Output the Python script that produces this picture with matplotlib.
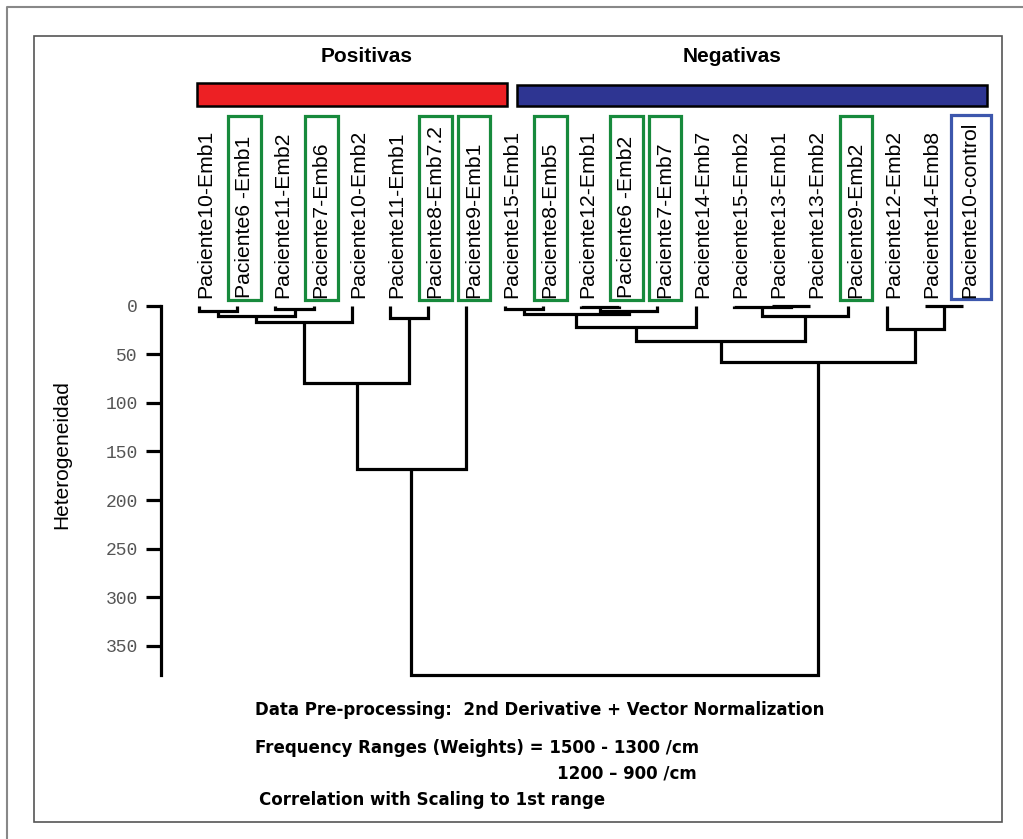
import matplotlib
matplotlib.use("Agg")
import matplotlib.pyplot as plt
from matplotlib.patches import Rectangle
from matplotlib.lines import Line2D
from matplotlib.transforms import blended_transform_factory

# leaf labels, in the order they appear
labels = ["Paciente10-Emb1", "Paciente6 -Emb1", "Paciente11-Emb2", "Paciente7-Emb6",
          "Paciente10-Emb2", "Paciente11-Emb1", "Paciente8-Emb7.2", "Paciente9-Emb1",
          "Paciente15-Emb1", "Paciente8-Emb5", "Paciente12-Emb1", "Paciente6 -Emb2",
          "Paciente7-Emb7", "Paciente14-Emb7", "Paciente15-Emb2", "Paciente13-Emb1",
          "Paciente13-Emb2", "Paciente9-Emb2", "Paciente12-Emb2", "Paciente14-Emb8",
          "Paciente10-control"]

# linkage: clusters 0..20 are leaves, each merge creates cluster 21, 22, ...
merge_left = [0, 2, 21, 23, 5, 24, 26, 8, 10, 29, 28, 31, 15, 14, 34, 32, 19, 18, 36, 27]
merge_right = [1, 3, 22, 4, 6, 25, 7, 9, 11, 12, 30, 13, 16, 33, 17, 35, 20, 37, 38, 39]
merge_height = [5, 3, 11, 17, 13, 80, 168, 3, 1, 5, 9, 22, 0.5, 1.5, 11, 36, 0, 24, 58, 380]

green_boxes = [1, 3, 6, 7, 9, 11, 12, 17]
blue_boxes = [20]

yticks = [0, 50, 100, 150, 200, 250, 300, 350]
groups = ["Positivas", "Negativas"]

W, H = 1023, 839
def fx(px):
    return px / W
def fy(py):
    return 1 - py / H

fig = plt.figure(figsize=(W / 100, H / 100), dpi=100)
ax = fig.add_axes([fx(160.8), fy(675), fx(1001.2) - fx(160.8), fy(305.7) - fy(675)])
ax.set_xlim(-1, 21)
ax.set_ylim(380, 0)

# dendrogram
xpos = {i: float(i) for i in range(len(labels))}
hpos = {i: 0.0 for i in range(len(labels))}
lw = 2.3
for k in range(len(merge_left)):
    a, b, h = merge_left[k], merge_right[k], merge_height[k]
    xa, xb = xpos[a], xpos[b]
    ax.plot([xa, xa, xb, xb], [hpos[a], h, h, hpos[b]], color="black", lw=lw,
            solid_joinstyle="miter", solid_capstyle="butt", clip_on=False)
    new = len(labels) + k
    xpos[new] = (xa + xb) / 2
    hpos[new] = h

for s in ["top", "right", "bottom"]:
    ax.spines[s].set_visible(False)
ax.spines["left"].set_linewidth(2.3)
ax.set_xticks([])
ax.set_yticks(yticks)
ax.tick_params(axis="y", direction="out", length=10.5, width=2.3, pad=6,
               labelsize=13, labelcolor="#555555")
for t in ax.get_yticklabels():
    t.set_family("Liberation Mono")

tr = blended_transform_factory(ax.transData, fig.transFigure)

# leaf labels
for i, lab in enumerate(labels):
    ax.text(i + 0.18, fy(298), lab, rotation=90, ha="center", va="bottom",
            fontsize=15.2, family="Liberation Sans", transform=tr, clip_on=False)

# boxes round some labels
for i in green_boxes:
    ax.add_patch(Rectangle((i + 0.2 - 0.43, fy(300)), 0.86, fy(116) - fy(300),
                           transform=tr, fill=False, edgecolor="#178a3c", lw=2.3, clip_on=False))
for i in blue_boxes:
    ax.add_patch(Rectangle((i + 0.2 - 0.52, fy(299)), 1.04, fy(115) - fy(299),
                           transform=tr, fill=False, edgecolor="#3d57ad", lw=2.3, clip_on=False))

# group bars
ax.add_patch(Rectangle((-0.05, fy(106)), 8.11, fy(83) - fy(106), transform=tr,
                       facecolor="#ed2024", edgecolor="black", lw=1.8, clip_on=False))
ax.add_patch(Rectangle((8.32, fy(106)), 12.31, fy(85) - fy(106), transform=tr,
                       facecolor="#2e3592", edgecolor="black", lw=1.8, clip_on=False))
ax.text(4.4, fy(56), groups[0], ha="center", va="center", fontsize=15, weight="bold",
        family="Liberation Sans", transform=tr)
ax.text(13.95, fy(57), groups[1], ha="center", va="center", fontsize=15, weight="bold",
        family="Liberation Sans", transform=tr)

fig.text(fx(62), fy(455), "Heterogeneidad", rotation=90, ha="center", va="center",
         fontsize=15, family="Liberation Sans")

# notes under the chart
note_font = dict(family=["Liberation Sans Narrow", "DejaVu Sans"], stretch="condensed",
                 weight="bold", fontsize=13.3, va="center", ha="left")
fig.text(fx(255), fy(710), "Data Pre-processing:  2nd Derivative + Vector Normalization", **note_font)
fig.text(fx(255), fy(748), "Frequency Ranges (Weights) = 1500 - 1300 /cm", **note_font)
fig.text(fx(557), fy(774), "1200 \u2013 900 /cm", **note_font)
fig.text(fx(259), fy(800), "Correlation with Scaling to 1st range", **note_font)

# frames
fig.patches.append(Rectangle((fx(34), fy(822)), fx(1002) - fx(34), fy(36) - fy(822),
                             transform=fig.transFigure, fill=False, edgecolor="#555555", lw=1.2))
fig.lines.append(Line2D([fx(7), fx(7), fx(1023)], [fy(839), fy(7), fy(7)],
                        transform=fig.transFigure, color="#888888", lw=1.5))

fig.savefig("out.png", dpi=100)
